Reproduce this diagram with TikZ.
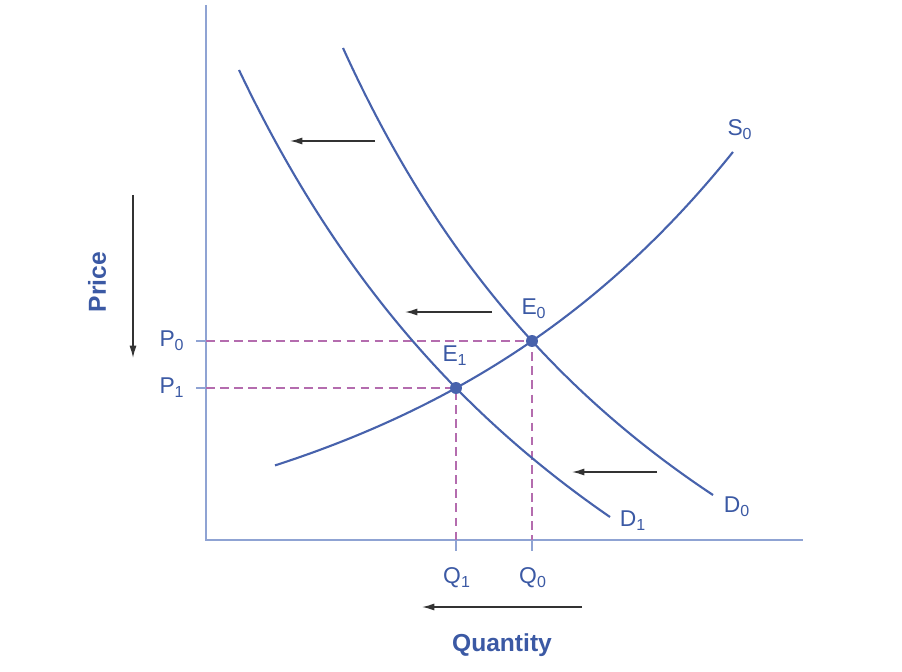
\documentclass[tikz,border=0pt]{standalone}
\usepackage{fontspec}
\setmainfont{Liberation Sans}
\usetikzlibrary{arrows.meta}
\definecolor{curveblue}{HTML}{4762AC}
\definecolor{axisblue}{HTML}{8FA3D3}
\definecolor{labelblue}{HTML}{3B59A4}
\definecolor{dashpink}{HTML}{B46CAE}
\tikzset{
  curve/.style={curveblue, line width=1.2pt},
  guide/.style={dashpink, line width=1pt, dash pattern=on 5pt off 3pt},
  shiftarrow/.style={-{Latex[length=7pt,width=4pt]}, black!80, line width=0.8pt},
  lbl/.style={labelblue, font=\fontsize{13}{15}\selectfont},
  ttl/.style={labelblue, font=\fontsize{14}{16}\selectfont\bfseries}
}
\begin{document}
\begin{tikzpicture}[x=0.02cm, y=-0.02cm]
  \useasboundingbox (0,0) rectangle (902,672);
  % axes
  \draw[axisblue, line width=1.6pt] (206,5) -- (206,540) -- (803,540);

  % equilibrium points
  \coordinate (E0) at (532,341);
  \coordinate (E1) at (456,388);

  % dashed guides + ticks
  \draw[guide] (206,341) -- (E0) -- (532,540);
  \draw[guide] (206,388) -- (E1) -- (456,540);
  \draw[axisblue, line width=1pt] (196,341) -- (206,341);
  \draw[axisblue, line width=1pt] (196,388) -- (206,388);
  \draw[axisblue, line width=1pt] (456,540) -- (456,551);
  \draw[axisblue, line width=1pt] (532,540) -- (532,551);

  % demand curves (hyperbolas)
  \draw[curve, domain=343:713, samples=100] plot (\x, {1038.8 - 4459.59/(\x/100 + 1.071)});
  \draw[curve, domain=239:610, samples=100] plot (\x, {1113.4 - 5164.83/(\x/100 + 2.56)});
  % supply curve
  \draw[curve, domain=275:733, samples=100] plot (\x, {388 - 187.6*(exp((\x-456)/340) - 1)});

  \fill[curveblue] (E0) circle (3.4pt);
  \fill[curveblue] (E1) circle (3.4pt);

  % labels
  \node[lbl] (lE0) at (534,309) {E\textsubscript{0}};
  \node[lbl] (lE1) at (455,356) {E\textsubscript{1}};
  \node[lbl] (lP0) at (172,341) {P\textsubscript{0}};
  \node[lbl] (lP1) at (172,388) {P\textsubscript{1}};
  \node[lbl] (lQ1) at (457,578) {Q\textsubscript{1}};
  \node[lbl] (lQ0) at (533,578) {Q\textsubscript{0}};
  \node[lbl] (lD1) at (633,521) {D\textsubscript{1}};
  \node[lbl] (lD0) at (737,507) {D\textsubscript{0}};
  \node[lbl] (lS0) at (740,130) {S\textsubscript{0}};
  \node[ttl, rotate=90] (price) at (97,282) {Price};
  \node[ttl] (qty) at (502,645) {Quantity};

  % shift arrows
  \coordinate (a1) at (375,141); \coordinate (b1) at (290,141);
  \coordinate (a2) at (492,312); \coordinate (b2) at (405,312);
  \coordinate (a3) at (657,472); \coordinate (b3) at (572,472);
  \coordinate (a4) at (582,607); \coordinate (b4) at (422,607);
  \coordinate (a5) at (133,195); \coordinate (b5) at (133,358);
  \foreach \i in {1,...,5} \draw[shiftarrow] (a\i) -- (b\i);
\end{tikzpicture}
\end{document}
